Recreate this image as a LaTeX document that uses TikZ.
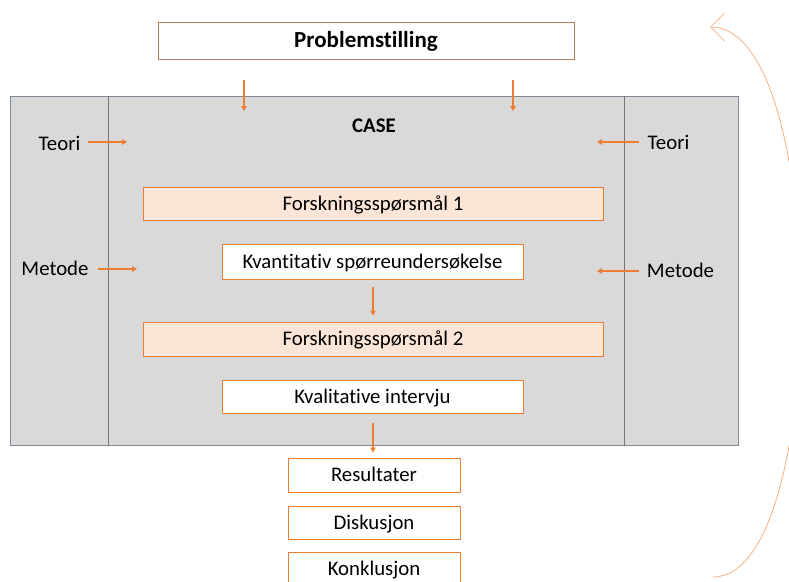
\documentclass[tikz,border=0pt]{standalone}
\usepackage{fontspec}
\setmainfont{Carlito}[Ligatures=NoCommon]
\usetikzlibrary{arrows.meta,calc}
\definecolor{accent}{HTML}{ED7D31}
\definecolor{accentlight}{HTML}{FBE5D6}
\definecolor{panelgrey}{HTML}{D9D9D9}
\definecolor{paneledge}{HTML}{7F8896}
\definecolor{divider}{HTML}{767676}
\definecolor{loopcol}{HTML}{F4B183}
\definecolor{topedge}{HTML}{B9805C}
\tikzset{
  txt/.style={font=\fontsize{20.8}{25}\selectfont, inner sep=0pt, text height=13.4pt, text depth=0pt},
  stagebox/.style={txt, draw=accent, line width=1pt, minimum width=#1, anchor=center},
  rqbox/.style={stagebox=#1, fill=accentlight},
  methodbox/.style={stagebox=#1, fill=white},
  flow/.style={draw=accent, line width=1.1pt, -{Triangle[length=5pt,width=5.5pt]}},
  loop/.style={draw=loopcol, line width=0.8pt, -{Straight Barb[length=14pt,width=28pt,line width=0.8pt]}}
}
\begin{document}
\begin{tikzpicture}[x=1pt,y=-1pt]
\useasboundingbox (0,0) rectangle (789,581);

% problem statement
\node[txt, draw=topedge, line width=0.9pt, fill=white, minimum width=416, minimum height=37,
      font=\fontsize{23}{27}\selectfont\bfseries, text height=14.8pt] (prob) at (366,40.5) {Problemstilling};

% the case frame with side panels
\node[draw=paneledge, line width=1pt, fill=panelgrey, minimum width=728, minimum height=349, inner sep=0pt] (case) at (374,270.5) {};
\coordinate (divL) at (108,96);
\coordinate (divR) at (624,96);
\draw[divider, line width=0.9pt] (divL) -- (divL |- case.south);
\draw[divider, line width=0.9pt] (divR) -- (divR |- case.south);
\node[txt, font=\fontsize{20.8}{25}\selectfont\bfseries] (caselbl) at (374,125.5) {CASE};

% arrows from the problem statement into the case
\coordinate (pa1) at (244,80);  \coordinate (pb1) at (244,111);
\coordinate (pa2) at (513,80);  \coordinate (pb2) at (513,111);
\draw[flow] (pa1) -- (pb1);
\draw[flow] (pa2) -- (pb2);

% theory and method inputs
\node[txt] (teoriL) at (59.5,144) {Teori};
\node[txt] (metodeL) at (55,269) {Metode};
\node[txt] (teoriR) at (668.5,142.5) {Teori};
\node[txt] (metodeR) at (680.5,270.5) {Metode};
\coordinate (tl0) at (88,142);  \coordinate (tl) at (127,142);
\coordinate (ml0) at (98,269);  \coordinate (ml) at (137,269);
\coordinate (tr0) at (639,142); \coordinate (tr) at (597,142);
\coordinate (mr0) at (639,271); \coordinate (mr) at (597,271);
\draw[flow] (tl0) -- (tl);
\draw[flow] (ml0) -- (ml);
\draw[flow] (tr0) -- (tr);
\draw[flow] (mr0) -- (mr);

% research questions and methods
\node[rqbox=460, minimum height=33] (rq1) at (373,203.5) {Forskningsspørsmål 1};
\node[methodbox=301, minimum height=35] (kvant) at (372.5,261.5) {Kvantitativ spørreundersøkelse};
\node[rqbox=460, minimum height=34] (rq2) at (373,339) {Forskningsspørsmål 2};
\node[methodbox=301, minimum height=33] (kval) at (372.5,396.5) {Kvalitative intervju};
\draw[flow] ($(kvant.south)+(0.5,7)$) -- ($(rq2.north)+(0,-6)$);

% outcome stages
\node[methodbox=172, minimum height=34] (res) at (374,475) {Resultater};
\node[methodbox=172, minimum height=33] (disk) at (374,522.5) {Diskusjon};
\node[methodbox=172, minimum height=34] (konk) at (374,569) {Konklusjon};
\draw[flow] ($(kval.south)+(0.5,9)$) -- ($(res.north)+(-1,-5)$);

% feedback loop back to the problem statement
\coordinate (loopstart) at (713,577);
\coordinate (loopend) at (710,27);
\draw[loop] (loopstart) .. controls (830,577) and (830,27) .. (loopend);
\end{tikzpicture}
\end{document}
